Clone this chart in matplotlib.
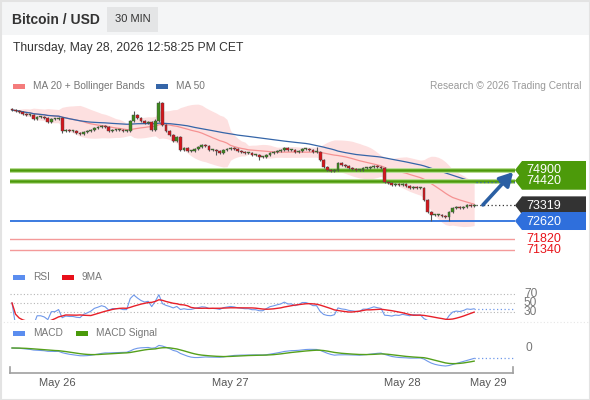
import numpy as np
import pandas as pd
import matplotlib
matplotlib.use('Agg')
import matplotlib.pyplot as plt
import matplotlib.transforms as mtrans
from matplotlib.patches import Polygon, Rectangle

plt.rcParams['font.family'] = ['Liberation Sans', 'DejaVu Sans']

W, H = 590, 400

# 30 min closes
closes = [
    77580, 77540, 77490, 77400, 77360, 77360, 77180, 77270, 77270, 77220,
    77050, 77180, 77180, 77220, 76640, 76690, 76640, 76640, 76550, 76510,
    76600, 76640, 76690, 76780, 76820, 76870, 76820, 76640, 76690, 76690,
    76690, 76640, 76640, 77090, 77360, 77220, 77090, 77000, 77050, 76690,
    77090, 77900, 76910, 76640, 76460, 76200, 76380, 75790, 75880, 75750,
    75750, 75840, 75930, 76020, 75970, 75790, 75790, 75750, 75660, 75790,
    75840, 75880, 75840, 75750, 75700, 75660, 75660, 75570, 75570, 75480,
    75480, 75570, 75660, 75700, 75750, 75790, 75880, 75790, 75790, 75700,
    75750, 75840, 75840, 75790, 75700, 75700, 75350, 75030, 74900, 74860,
    74900, 75210, 75120, 75080, 74990, 74940, 74900, 74900, 74990, 74990,
    75030, 75080, 75030, 74990, 74360, 74320, 74230, 74270, 74230, 74270,
    74190, 74100, 74140, 74100, 74100, 73560, 73020, 72890, 72890, 72890,
    72840, 72800, 73020, 73200, 73250, 73200, 73250, 73330, 73290, 73319,
]
first_open = 77600
spike_highs = {34: 77540, 41: 77985, 85: 75930, 40: 77200}
spike_lows = {14: 76550, 57: 75570, 69: 75350, 117: 72600, 122: 72620}

resistances = [74420, 74900]
support = 72620
lower_levels = [71820, 71340]
last_price = 73319

day_labels = ['May 26', 'May 27', 'May 28', 'May 29']
day_pos = [12.6, 60.8, 108.9, 132.9]
rsi_levels = [70, 50, 30]

# colours
GREEN = '#4c9a0a'
BLUE_LVL = '#2f6fdc'
UP = '#3d8a1c'
DOWN = '#d4161c'
MA20_C = '#f47f7f'
MA50_C = '#3565a8'
RSI_C = '#6f98ea'
GRAY_T = '#777777'

s = pd.Series(closes, dtype=float)
opens = pd.Series([first_open] + closes[:-1], dtype=float)
n = len(s)
x = np.arange(n)
ma20 = s.rolling(20, min_periods=1).mean()
sd = s.rolling(20, min_periods=1).std(ddof=0)
ma50 = s.rolling(50, min_periods=1).mean()
delta = s.diff().fillna(0)
gain = delta.clip(lower=0).ewm(alpha=1 / 14, adjust=True).mean()
loss = (-delta.clip(upper=0)).ewm(alpha=1 / 14, adjust=True).mean()
rsi = 100 - 100 / (1 + gain / loss.replace(0, np.nan))
rsi = rsi.fillna(50)
rsi_ma = rsi.rolling(9, min_periods=1).mean()
macd = s.ewm(span=12, adjust=False).mean() - s.ewm(span=26, adjust=False).mean()
signal = macd.ewm(span=9, adjust=False).mean()

fig = plt.figure(figsize=(W / 100, H / 100), dpi=100)


def px_axes(x0, y0, x1, y1, z=1):
    a = fig.add_axes([x0 / W, 1 - y1 / H, (x1 - x0) / W, (y1 - y0) / H], zorder=z)
    a.axis('off')
    return a


XL = (-0.56, 140.4)

# ---- price panel
pax = px_axes(10, 95, 515, 260)
pax.set_xlim(*XL)
pax.set_ylim(70877, 78252)
pax.fill_between(x, ma20 + 2 * sd, ma20 - 2 * sd, color='#fdd6d6', alpha=0.75, lw=0)
pax.plot(x, ma20, color=MA20_C, lw=0.9, alpha=0.8)
pax.plot(x, ma50, color=MA50_C, lw=0.9)

for lv in lower_levels:
    pax.axhline(lv, color='#f49a9a', lw=1)
pax.axhline(support, color='#3b7be0', lw=1.4)
for lv in resistances:
    pax.axhline(lv, color='#b9dc95', lw=3.6)
    pax.axhline(lv, color=GREEN, lw=1.8)

for i in range(n):
    o, c = opens[i], s[i]
    col = UP if c >= o else DOWN
    hi = spike_highs.get(i, max(o, c) + 50)
    lo = spike_lows.get(i, min(o, c) - 50)
    pax.vlines(i, lo, hi, color='#555555', lw=0.8, zorder=3)
    h = max(abs(c - o), 45)
    pax.bar(i, h, bottom=min(o, c), width=0.78, color=col, edgecolor='#444444', lw=0.3, zorder=4)

pax.plot([n - 1 + 0.5, XL[1]], [last_price, last_price], color='#333333', lw=0.9, ls=(0, (1, 2)))
pax.plot([n - 1 + 0.5, XL[1]], [ma50.iloc[-1]] * 2, color=MA50_C, lw=0.9, ls=(0, (1, 2)))

# ---- RSI panel
rax = px_axes(10, 285, 515, 320)
rax.set_xlim(*XL)
rax.set_ylim(12.2, 90)
for lv in rsi_levels:
    rax.axhline(lv, color='#b5b5b5', lw=0.8, ls=(0, (1, 2)))
rax.plot(x, rsi, color=RSI_C, lw=0.8)
rax.plot(x, rsi_ma, color='#e8202a', lw=1.0)
rax.plot([n - 1, XL[1]], [rsi.iloc[-1]] * 2, color=RSI_C, lw=0.9, ls=(0, (1, 2)))

# ---- MACD panel
mx = px_axes(10, 337, 515, 370)
mx.set_xlim(*XL)
u = -min(macd.min(), signal.min()) / 18.0
mx.set_ylim(-(370 - 348) * u, (348 - 337) * u)
mx.plot(x, macd, color=RSI_C, lw=0.8)
mx.plot(x, signal, color='#55a01c', lw=1.0)
mx.plot([n - 1, XL[1]], [macd.iloc[-1]] * 2, color=RSI_C, lw=0.9, ls=(0, (1, 2)))

# ---- overlay in pixel coordinates
ov = px_axes(0, 0, W, H, z=10)
ov.set_xlim(0, W)
ov.set_ylim(H, 0)


def ypx(a, v):
    return H - a.transData.transform((0, v))[1]


ov.add_patch(Rectangle((0, 0), W, 35, color='#f4f5f6', lw=0, zorder=0))
ov.add_patch(Rectangle((0.5, 0.5), W - 1, H - 1, fill=False, ec='#e3e3e3', lw=1.5))
ov.add_patch(Rectangle((107, 7), 51, 25, color='#e4e5e6', lw=0))
ov.text(12, 19.5, 'Bitcoin / USD', fontsize=10, fontweight='bold', color='#333333', va='center')
ov.text(132.5, 19.5, '30 MIN', fontsize=8, color='#333333', va='center', ha='center')
ov.text(13, 48, 'Thursday, May 28, 2026 12:58:25 PM CET', fontsize=8.7, color='#333333', va='center')

# legends
def legend_item(x0, y0, col, label, w=12):
    ov.add_patch(Rectangle((x0, y0 - 2.5), w, 5, color=col, lw=0))
    ov.text(x0 + w + 8, y0, label, fontsize=7.3, color=GRAY_T, va='center')


legend_item(13, 86, '#f47c7c', 'MA 20 + Bollinger Bands')
legend_item(156, 86, MA50_C, 'MA 50')
ov.text(581, 86, 'Research \u00a9 2026 Trading Central', fontsize=7.3, color='#999999', va='center', ha='right')
legend_item(13, 277, '#5b8def', 'RSI')
legend_item(62, 277, '#e8101a', '9MA')
legend_item(13, 333, '#5b8def', 'MACD')
legend_item(76, 333, '#4a9a0a', 'MACD Signal')

# price tags
def tag(price, col, label):
    yc = ypx(pax, price)
    ov.add_patch(Polygon([(515, yc), (522, yc - 9), (586, yc - 9), (586, yc + 9), (522, yc + 9)],
                         closed=True, color=col, lw=0))
    ov.text(526, yc + 0.5, label, fontsize=9, color='white', va='center')


tag(resistances[0], GREEN, str(resistances[0]))
tag(resistances[1], GREEN, str(resistances[1]))
tag(last_price, '#333333', str(last_price))
tag(support, BLUE_LVL, str(support))
for lv in lower_levels:
    ov.text(526, ypx(pax, lv) + 0.5, str(lv), fontsize=9, color='#e8141a', va='center')

for lv in rsi_levels:
    ov.text(524, ypx(rax, lv), str(lv), fontsize=8.6, color=GRAY_T, va='center')
ov.text(525, ypx(mx, 0), '0', fontsize=8.6, color=GRAY_T, va='center')

# arrow
ov.annotate('', xy=(515, 170), xytext=(481, 207),
            arrowprops=dict(arrowstyle='-|>,head_width=0.45,head_length=0.8', color='#2b5fa3', lw=2.6))

# faint separators
ov.plot([0, W], [322, 322], color='#e6e6e6', lw=0.8, ls=(0, (1, 2)))

# time axis
ov.plot([10, 513], [373, 373], color='#a0a0a0', lw=1.2)
ov.plot([10, 10], [367, 373], color='#a0a0a0', lw=1.2)
ov.plot([513, 513], [367, 373], color='#a0a0a0', lw=1.2)
bt = mtrans.blended_transform_factory(pax.transData, ov.transData)
for lab, pos in zip(day_labels, day_pos):
    ov.text(pos, 383, lab, transform=bt, fontsize=8, color='#555555', ha='center', va='center')

fig.savefig('out.png', dpi=100)
